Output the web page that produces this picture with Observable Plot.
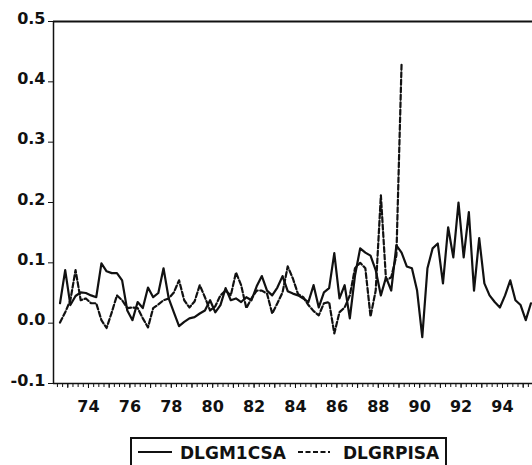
<!DOCTYPE html>
<html><head><meta charset="utf-8">
<script src="https://cdn.jsdelivr.net/npm/d3@7"></script>
<script src="https://cdn.jsdelivr.net/npm/@observablehq/plot@0.6"></script>
<style>
body{margin:0;background:#fff;width:532px;height:465px;overflow:hidden;position:relative;font-family:"DejaVu Sans",sans-serif;}
#chart svg{display:block;}
#legend{position:absolute;left:130px;top:437px;width:317px;height:40px;border:2px solid #111;border-bottom:none;box-sizing:border-box;}
#legend svg{display:block;}
</style></head><body>
<div id="chart"></div>
<div id="legend"></div>
<script>
// Quarterly series, first observation 1972 Q3
const startYear = 1972, startQuarter = 3;
const seriesNames = ["DLGM1CSA", "DLGRPISA"];
const dlgm1csa = [
  0.033, 0.088, 0.030, 0.045, 0.051, 0.050, 0.046, 0.043, 0.099, 0.086,
  0.083, 0.083, 0.071, 0.021, 0.005, 0.035, 0.025, 0.059, 0.043, 0.050,
  0.091, 0.041, 0.018, -0.005, 0.002, 0.008, 0.010, 0.016, 0.021, 0.038,
  0.018, 0.030, 0.058, 0.038, 0.041, 0.035, 0.043, 0.038, 0.061, 0.078,
  0.054, 0.046, 0.059, 0.078, 0.053, 0.049, 0.046, 0.041, 0.035, 0.063,
  0.026, 0.051, 0.058, 0.116, 0.041, 0.063, 0.008, 0.079, 0.124, 0.117,
  0.112, 0.088, 0.046, 0.076, 0.054, 0.129, 0.117, 0.094, 0.091, 0.054,
  -0.023, 0.091, 0.124, 0.132, 0.066, 0.159, 0.109, 0.200, 0.109, 0.184,
  0.054, 0.141, 0.066, 0.046, 0.035, 0.026, 0.046, 0.071, 0.038, 0.030,
  0.005, 0.033
];
const dlgrpisa = [
  0.001, 0.018, 0.038, 0.088, 0.038, 0.041, 0.033, 0.033, 0.005, -0.008,
  0.018, 0.046, 0.038, 0.025, 0.026, 0.025, 0.008, -0.007, 0.025, 0.031,
  0.038, 0.041, 0.051, 0.071, 0.038, 0.026, 0.036, 0.063, 0.043, 0.021,
  0.028, 0.046, 0.054, 0.046, 0.084, 0.063, 0.025, 0.041, 0.054, 0.054,
  0.049, 0.016, 0.033, 0.051, 0.094, 0.074, 0.048, 0.043, 0.030, 0.020,
  0.013, 0.033, 0.035, -0.017, 0.018, 0.026, 0.046, 0.091, 0.100, 0.091,
  0.011, 0.054, 0.212, 0.071, 0.076, 0.112, 0.430
];
const yTicks = [-0.1, 0.0, 0.1, 0.2, 0.3, 0.4, 0.5];
const yearTicks = d3.range(1973, 1996);
const quarterTicks = d3.range(1972.5, 1995.5, 0.25);

const toRows = arr => arr.map((v, i) => ({t: startYear + (startQuarter - 1) / 4 + 0.125 + i / 4, v}));
const m1Rows = toRows(dlgm1csa);
const rpiRows = toRows(dlgrpisa);

const xMin = 1972.31, xMax = 1995.45;
const ink = "#111";

const chart = Plot.plot({
  width: 532, height: 425,
  marginLeft: 53, marginRight: 0, marginTop: 21, marginBottom: 42,
  style: {fontFamily: "DejaVu Sans, sans-serif", fontSize: "16px", fontWeight: "bold", color: ink, background: "#fff"},
  x: {domain: [xMin, xMax]},
  y: {domain: [-0.1, 0.5]},
  marks: [
    Plot.ruleY([0.5], {stroke: ink, strokeWidth: 2}),
    Plot.ruleY([-0.1], {stroke: ink, strokeWidth: 1.5}),
    Plot.ruleX([xMin], {stroke: ink, strokeWidth: 1.5}),
    Plot.axisY(yTicks, {tickSize: 5, text: null, label: null, stroke: ink}),
    Plot.axisY(yTicks, {tickSize: 0, tickPadding: 8, dy: -3, tickFormat: d => d.toFixed(1), label: null, fill: ink}),
    Plot.axisX(quarterTicks, {tickSize: 4, tickFormat: () => "", label: null, stroke: ink}),
    Plot.axisX(yearTicks, {tickSize: 5, tickPadding: 12, tickFormat: d => d % 2 === 0 ? String(d).slice(2) : "", label: null, stroke: ink, fill: ink}),
    Plot.line(m1Rows, {x: "t", y: "v", stroke: ink, strokeWidth: 2.2}),
    Plot.line(rpiRows, {x: "t", y: "v", stroke: ink, strokeWidth: 2.2, strokeDasharray: "5,2.5"})
  ]
});
document.getElementById("chart").appendChild(chart);

// Legend below the chart
const lg = d3.select("#legend").append("svg").attr("width", 313).attr("height", 38);
const items = [
  {name: seriesNames[0], x1: 6, x2: 40, tx: 48, dash: null},
  {name: seriesNames[1], x1: 166, x2: 198, tx: 211, dash: "5,2.5"}
];
items.forEach(it => {
  lg.append("line").attr("x1", it.x1).attr("x2", it.x2).attr("y1", 13).attr("y2", 13)
    .attr("stroke", ink).attr("stroke-width", 2).attr("stroke-dasharray", it.dash);
  lg.append("text").attr("x", it.tx).attr("y", 20).text(it.name)
    .attr("font-family", "DejaVu Sans, sans-serif").attr("font-size", 17).attr("font-weight", "bold").attr("fill", ink);
});
</script>
</body></html>
